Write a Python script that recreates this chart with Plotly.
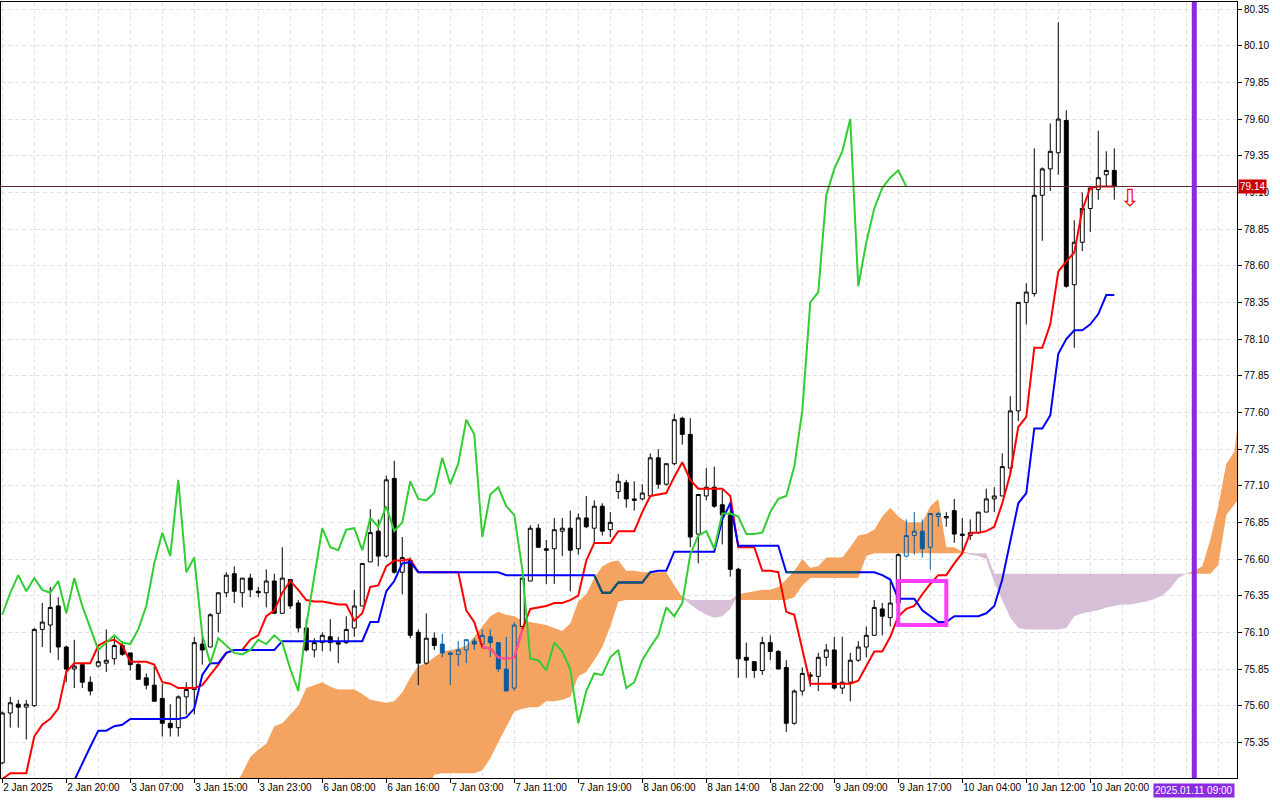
import plotly.graph_objects as go

# H1 bars, x = bar index (0 = 2 Jan 2025)
opens = [75.21, 75.55, 75.61, 75.59, 75.60, 76.12, 76.15, 76.28, 76.00, 75.85,
         75.88, 75.76, 75.87, 75.89, 75.92, 76.01, 75.96, 75.88, 75.79, 75.74,
         75.65, 75.48, 75.45, 75.66, 75.71, 76.02, 76.00, 76.23, 76.37, 76.50,
         76.37, 76.47, 76.38, 76.37, 76.45, 76.23, 76.46, 76.30, 76.13, 75.98,
         76.03, 76.07, 76.03, 76.03, 76.13, 76.28, 76.58, 76.79, 76.62, 77.15,
         76.51, 76.59, 76.10, 75.89, 76.06, 76.02, 75.96, 75.95, 75.98, 76.04,
         76.02, 76.07, 76.03, 75.85, 75.72, 76.14, 76.45, 76.81, 76.67, 76.67,
         76.79, 76.81, 76.67, 76.88, 76.81, 76.96, 76.80, 77.06, 77.12, 77.01,
         77.01, 77.03, 77.29, 77.11, 77.25, 77.56, 77.45, 76.77, 77.03, 77.09,
         76.97, 76.90, 76.53, 75.93, 75.90, 75.84, 76.03, 75.97, 75.86, 75.48,
         75.70, 75.80, 75.80, 75.93, 75.98, 75.72, 75.76, 75.91, 76.00, 76.08,
         76.26, 76.20, 76.30, 76.62, 76.76, 76.79, 76.68, 76.89, 76.88, 76.93,
         76.76, 76.76, 76.78, 76.92, 77.01, 77.03, 77.22, 77.61, 78.35, 78.41,
         79.08, 79.26, 79.37, 79.59, 78.47, 78.76, 78.99, 79.12, 79.22, 79.25]
highs = [75.56, 75.66, 75.64, 75.64, 76.13, 76.30, 76.41, 76.34, 76.01, 76.05,
         75.88, 75.80, 75.99, 76.12, 76.08, 76.04, 75.96, 75.89, 75.82, 75.87,
         75.75, 75.61, 75.67, 75.76, 76.07, 76.07, 76.23, 76.37, 76.51, 76.55,
         76.47, 76.50, 76.41, 76.53, 76.50, 76.68, 76.46, 76.32, 76.19, 76.06,
         76.10, 76.19, 76.07, 76.21, 76.39, 76.57, 76.94, 76.87, 77.17, 77.27,
         76.75, 76.61, 76.12, 76.23, 76.10, 76.09, 75.97, 76.04, 76.05, 76.06,
         76.12, 76.12, 76.03, 76.07, 76.17, 76.47, 76.83, 76.84, 76.73, 76.88,
         76.88, 76.93, 76.91, 77.03, 77.00, 76.98, 76.92, 77.18, 77.14, 77.13,
         77.11, 77.32, 77.35, 77.25, 77.59, 77.57, 77.56, 77.04, 77.22, 77.23,
         77.07, 77.00, 76.54, 76.03, 75.90, 76.07, 76.08, 75.98, 75.91, 75.71,
         75.86, 75.83, 75.96, 76.02, 76.07, 76.07, 75.96, 76.04, 76.14, 76.32,
         76.30, 76.45, 76.64, 76.87, 76.92, 76.87, 76.91, 76.92, 76.92, 77.01,
         76.88, 76.87, 76.92, 77.08, 77.09, 77.32, 77.71, 78.35, 78.48, 79.40,
         79.27, 79.57, 80.26, 79.66, 78.91, 79.10, 79.13, 79.52, 79.38, 79.40]
lows = [75.20, 75.45, 75.45, 75.37, 75.59, 76.00, 75.96, 75.91, 75.76, 75.72,
        75.72, 75.67, 75.86, 75.83, 75.88, 75.94, 75.84, 75.78, 75.71, 75.63,
        75.39, 75.39, 75.39, 75.54, 75.54, 75.88, 76.00, 76.10, 76.34, 76.30,
        76.27, 76.34, 76.34, 76.27, 76.23, 76.23, 76.26, 76.10, 75.97, 75.93,
        75.97, 75.97, 75.89, 76.02, 76.07, 76.28, 76.58, 76.55, 76.61, 76.50,
        76.36, 76.06, 75.74, 75.88, 75.98, 75.93, 75.74, 75.87, 75.89, 75.98,
        75.99, 75.93, 75.83, 75.70, 75.70, 76.13, 76.45, 76.68, 76.43, 76.43,
        76.62, 76.38, 76.63, 76.81, 76.71, 76.76, 76.75, 77.01, 76.95, 76.93,
        77.00, 77.02, 77.08, 77.10, 77.24, 77.38, 76.68, 76.57, 77.00, 76.95,
        76.70, 76.48, 75.79, 75.79, 75.79, 75.81, 75.91, 75.85, 75.42, 75.47,
        75.67, 75.73, 75.70, 75.87, 75.71, 75.68, 75.63, 75.90, 75.93, 76.08,
        76.08, 76.14, 76.29, 76.61, 76.63, 76.61, 76.53, 76.82, 76.82, 76.71,
        76.64, 76.73, 76.77, 76.92, 76.92, 77.03, 77.18, 77.54, 78.20, 78.39,
        78.77, 79.11, 79.22, 78.45, 78.04, 78.70, 78.83, 79.05, 79.14, 79.05]
closes = [75.55, 75.62, 75.59, 75.61, 76.12, 76.17, 76.27, 76.00, 75.85, 75.87,
          75.76, 75.70, 75.90, 75.91, 76.01, 75.95, 75.88, 75.78, 75.74, 75.63,
          75.48, 75.45, 75.66, 75.71, 76.03, 75.98, 76.22, 76.37, 76.49, 76.38,
          76.47, 76.39, 76.37, 76.45, 76.23, 76.47, 76.28, 76.13, 75.98, 76.03,
          76.08, 76.03, 76.02, 76.12, 76.28, 76.57, 76.78, 76.62, 77.14, 76.51,
          76.61, 76.08, 75.89, 76.06, 76.01, 75.96, 75.95, 75.98, 76.05, 76.02,
          76.08, 76.03, 75.85, 75.70, 76.15, 76.47, 76.81, 76.68, 76.66, 76.80,
          76.81, 76.66, 76.88, 76.82, 76.96, 76.79, 76.85, 77.13, 77.01, 77.00,
          77.05, 77.29, 77.11, 77.25, 77.55, 77.45, 76.75, 77.04, 77.09, 76.96,
          76.90, 76.53, 75.92, 75.91, 75.84, 76.03, 75.97, 75.85, 75.48, 75.70,
          75.82, 75.81, 75.93, 75.98, 75.72, 75.76, 75.91, 76.00, 76.08, 76.27,
          76.21, 76.30, 76.63, 76.76, 76.79, 76.67, 76.91, 76.91, 76.89, 76.77,
          76.77, 76.78, 76.92, 77.01, 77.03, 77.23, 77.61, 78.35, 78.42, 79.08,
          79.26, 79.38, 79.60, 78.46, 78.76, 78.99, 79.13, 79.20, 79.25, 79.14]

# Ichimoku lines
tenkan = [75.10, 75.14, 75.14, 75.14, 75.39, 75.47, 75.51, 75.58, 75.83, 75.89,
          75.89, 75.89, 76.01, 76.04, 76.05, 76.01, 75.90, 75.90, 75.90, 75.88,
          75.76, 75.75, 75.72, 75.72, 75.72, 75.74, 75.81, 75.88, 75.96, 75.98,
          75.98, 76.05, 76.08, 76.21, 76.25, 76.37, 76.45, 76.39, 76.32, 76.31,
          76.31, 76.30, 76.29, 76.29, 76.18, 76.23, 76.41, 76.42, 76.55, 76.59,
          76.59, 76.60, 76.51, 76.51, 76.51, 76.51, 76.51, 76.51, 76.25, 76.17,
          76.00, 75.99, 75.93, 75.92, 75.93, 76.12, 76.26, 76.27, 76.28, 76.30,
          76.30, 76.32, 76.35, 76.59, 76.71, 76.71, 76.71, 76.79, 76.79, 76.79,
          76.92, 77.03, 77.04, 77.05, 77.16, 77.26, 77.14, 77.08, 77.08, 77.08,
          77.08, 77.03, 76.68, 76.68, 76.68, 76.52, 76.52, 76.51, 76.24, 76.22,
          75.98, 75.75, 75.75, 75.75, 75.75, 75.75, 75.75, 75.77, 75.87, 75.97,
          75.97, 76.07, 76.21, 76.26, 76.28, 76.36, 76.43, 76.49, 76.49, 76.57,
          76.64, 76.78, 76.78, 76.79, 76.82, 76.98, 77.18, 77.50, 77.57, 78.04,
          78.04, 78.20, 78.56, 78.63, 78.69, 78.98, 79.13, 79.14, 79.14, 79.14]
kijun = [None, None, None, None, None, None, None, None, None, 75.09,
         75.21, 75.32, 75.43, 75.43, 75.46, 75.47, 75.51, 75.51, 75.51, 75.51,
         75.51, 75.51, 75.51, 75.52, 75.58, 75.81, 75.89, 75.89, 75.96, 75.98,
         75.98, 75.98, 75.98, 75.98, 75.98, 76.04, 76.04, 76.04, 76.04, 76.04,
         76.04, 76.04, 76.04, 76.04, 76.04, 76.04, 76.17, 76.17, 76.38, 76.45,
         76.57, 76.58, 76.51, 76.51, 76.51, 76.51, 76.51, 76.51, 76.51, 76.51,
         76.51, 76.51, 76.51, 76.49, 76.49, 76.49, 76.49, 76.49, 76.49, 76.49,
         76.49, 76.49, 76.49, 76.49, 76.49, 76.37, 76.37, 76.44, 76.44, 76.44,
         76.44, 76.51, 76.52, 76.52, 76.65, 76.65, 76.65, 76.65, 76.65, 76.65,
         76.87, 76.98, 76.69, 76.69, 76.69, 76.69, 76.69, 76.69, 76.51, 76.51,
         76.51, 76.51, 76.51, 76.51, 76.51, 76.51, 76.51, 76.51, 76.51, 76.51,
         76.49, 76.46, 76.33, 76.33, 76.33, 76.25, 76.21, 76.17, 76.17, 76.21,
         76.21, 76.21, 76.21, 76.23, 76.28, 76.46, 76.72, 76.98, 77.05, 77.49,
         77.49, 77.58, 78.00, 78.10, 78.16, 78.16, 78.20, 78.27, 78.40, 78.40]

# Senkou spans, bars 29..155 (26 bars ahead of price)
span_start = 29
span_a = [75.05, 75.14, 75.25, 75.30, 75.34, 75.46, 75.48, 75.54, 75.60, 75.72,
          75.74, 75.76, 75.73, 75.71, 75.71, 75.71, 75.68, 75.64, 75.63, 75.62,
          75.63, 75.69, 75.79, 75.87, 75.89, 75.93, 75.97, 75.98, 75.99, 76.01,
          76.07, 76.14, 76.21, 76.24, 76.22, 76.21, 76.18, 76.17, 76.16, 76.15,
          76.13, 76.11, 76.16, 76.31, 76.36, 76.47, 76.55, 76.58, 76.59, 76.52,
          76.52, 76.51, 76.51, 76.51, 76.51, 76.42, 76.34, 76.29, 76.25, 76.22,
          76.20, 76.21, 76.26, 76.36, 76.37, 76.38, 76.39, 76.39, 76.41, 76.46,
          76.52, 76.60, 76.54, 76.55, 76.61, 76.61, 76.61, 76.68, 76.76, 76.77,
          76.80, 76.89, 76.95, 76.89, 76.85, 76.85, 76.85, 76.96, 77.01, 76.68,
          76.68, 76.65, 76.63, 76.62, 76.60, 76.44, 76.32, 76.20, 76.13, 76.12,
          76.12, 76.12, 76.12, 76.12, 76.13, 76.21, 76.23, 76.24, 76.25, 76.27,
          76.28, 76.29, 76.29, 76.30, 76.31, 76.33, 76.35, 76.40, 76.47, 76.50,
          76.52, 76.55, 76.73, 76.96, 77.25, 77.33, 77.77]
span_b = [75.00, 75.00, 75.00, 75.00, 75.00, 75.00, 75.00, 75.00, 75.00, 75.00,
          75.00, 75.00, 75.00, 75.00, 75.00, 75.00, 75.00, 75.00, 75.00, 75.00,
          75.00, 75.00, 75.00, 75.00, 75.00, 75.13, 75.14, 75.14, 75.14, 75.14,
          75.14, 75.16, 75.24, 75.35, 75.45, 75.56, 75.58, 75.59, 75.59, 75.63,
          75.63, 75.64, 75.66, 75.80, 75.83, 75.91, 76.00, 76.14, 76.31, 76.32,
          76.32, 76.32, 76.32, 76.32, 76.32, 76.32, 76.32, 76.32, 76.32, 76.32,
          76.32, 76.32, 76.32, 76.32, 76.32, 76.32, 76.32, 76.32, 76.32, 76.32,
          76.34, 76.42, 76.47, 76.47, 76.47, 76.47, 76.47, 76.47, 76.47, 76.62,
          76.64, 76.64, 76.64, 76.64, 76.64, 76.64, 76.64, 76.64, 76.64, 76.64,
          76.64, 76.64, 76.64, 76.64, 76.64, 76.50, 76.50, 76.50, 76.50, 76.50,
          76.50, 76.50, 76.50, 76.50, 76.50, 76.50, 76.50, 76.50, 76.50, 76.50,
          76.50, 76.50, 76.50, 76.50, 76.50, 76.50, 76.50, 76.50, 76.50, 76.50,
          76.50, 76.50, 76.50, 76.56, 76.90, 76.97, 77.04]

# bars whose candles sit inside the cloud (MT5 draws them inverted/blue)
in_cloud = [55, 56, 57, 58, 59, 60, 61, 62, 63, 64, 113, 114, 115, 116, 117]
tenkan_pink = [60, 61, 62, 63, 64, 65]
kijun_teal = [74, 75, 76, 77, 78, 79, 80, 81, None, 98, 99, 100, 101, 102, 103, 104, 105, 106, 107]

tick_bars = [0, 8, 16, 24, 32, 40, 48, 56, 64, 72, 80, 88, 96, 104, 112, 120, 128, 136]
tick_text = ["2 Jan 2025", "2 Jan 20:00", "3 Jan 07:00", "3 Jan 15:00", "3 Jan 23:00",
             "6 Jan 08:00", "6 Jan 16:00", "7 Jan 03:00", "7 Jan 11:00", "7 Jan 19:00",
             "8 Jan 06:00", "8 Jan 14:00", "8 Jan 22:00", "9 Jan 09:00", "9 Jan 17:00",
             "10 Jan 04:00", "10 Jan 12:00", "10 Jan 20:00"]

last_price = 79.14
vline_bar, vline_label = 149, "2025.01.11 09:00"
rect_bars, rect_prices = (112, 118), (76.15, 76.45)
arrow_bar, arrow_price = 141, 79.06

FONT = "Liberation Sans"
GRID = "#e2e2e2"
Y_RANGE = [75.107, 80.398]

bars = list(range(len(closes)))
span_x = list(range(span_start, span_start + len(span_a)))
span_top = [max(a, b) for a, b in zip(span_a, span_b)]

fig = go.Figure()

# cloud on the base axes: orange where A > B, thistle where B > A
fig.add_trace(go.Scatter(x=span_x, y=span_b, mode="lines", line=dict(width=0), hoverinfo="skip"))
fig.add_trace(go.Scatter(x=span_x, y=span_top, mode="lines", line=dict(width=0),
                         fill="tonexty", fillcolor="#f4a460", hoverinfo="skip"))
fig.add_trace(go.Scatter(x=span_x, y=span_a, mode="lines", line=dict(width=0), hoverinfo="skip"))
fig.add_trace(go.Scatter(x=span_x, y=span_top, mode="lines", line=dict(width=0),
                         fill="tonexty", fillcolor="#d8bfd8", hoverinfo="skip"))

# everything else on an overlaying y axis so it is drawn above the cloud
normal = [i for i in bars if i not in in_cloud]
fig.add_trace(go.Candlestick(
    x=normal, yaxis="y2",
    open=[opens[i] for i in normal], high=[highs[i] for i in normal],
    low=[lows[i] for i in normal], close=[closes[i] for i in normal],
    increasing=dict(line=dict(color="black", width=1), fillcolor="white"),
    decreasing=dict(line=dict(color="black", width=1), fillcolor="black"),
    whiskerwidth=0, hoverinfo="skip"))
fig.add_trace(go.Candlestick(
    x=in_cloud, yaxis="y2",
    open=[opens[i] for i in in_cloud], high=[highs[i] for i in in_cloud],
    low=[lows[i] for i in in_cloud], close=[closes[i] for i in in_cloud],
    increasing=dict(line=dict(color="#0b5b9f", width=1), fillcolor="rgba(0,0,0,0)"),
    decreasing=dict(line=dict(color="#0b5b9f", width=1), fillcolor="#0b5b9f"),
    whiskerwidth=0, hoverinfo="skip"))

# tenkan / kijun
fig.add_trace(go.Scatter(x=bars, y=tenkan, yaxis="y2", mode="lines",
                         line=dict(color="#ff0000", width=2), hoverinfo="skip"))
fig.add_trace(go.Scatter(x=bars, y=kijun, yaxis="y2", mode="lines",
                         line=dict(color="#0000ff", width=2), hoverinfo="skip"))
fig.add_trace(go.Scatter(x=tenkan_pink, y=[tenkan[i] for i in tenkan_pink], yaxis="y2",
                         mode="lines", line=dict(color="#f45b9f", width=2), hoverinfo="skip"))
fig.add_trace(go.Scatter(x=kijun_teal, y=[None if i is None else kijun[i] for i in kijun_teal],
                         yaxis="y2", mode="lines", line=dict(color="#0b5b60", width=2),
                         hoverinfo="skip"))

# chikou: close shifted back 26 bars
fig.add_trace(go.Scatter(x=[i - 26 for i in bars[26:]], y=closes[26:], yaxis="y2", mode="lines",
                         line=dict(color="#32cd32", width=2), hoverinfo="skip"))

# bid line
fig.add_hline(y=last_price, line=dict(color="#5c2a2a", width=1))

# chart objects
fig.add_shape(type="rect", x0=rect_bars[0], x1=rect_bars[1], y0=rect_prices[0], y1=rect_prices[1],
              line=dict(color="#ff3cff", width=4))
fig.add_shape(type="line", x0=vline_bar, x1=vline_bar, y0=0, y1=1, yref="paper",
              line=dict(color="#8a2be2", width=5))

fig.add_annotation(x=vline_bar, y=0, yref="paper", yanchor="top", yshift=-5,
                   text=vline_label, showarrow=False, bgcolor="#8a2be2", borderpad=1,
                   font=dict(family=FONT, size=10, color="white"))
fig.add_annotation(x=1, xref="paper", xanchor="left", xshift=1, y=last_price,
                   text=f"{last_price:.2f}", showarrow=False, bgcolor="#cc0000", borderpad=1,
                   font=dict(family=FONT, size=10, color="white"))
fig.add_annotation(x=arrow_bar, y=arrow_price, text="⇩", showarrow=False,
                   font=dict(family="DejaVu Sans", size=24, color="#ff0000"))

axis_common = dict(showline=True, linecolor="black", linewidth=1, mirror=True,
                   showgrid=True, gridcolor=GRID, griddash="4px,3px", zeroline=False,
                   ticks="outside", ticklen=4, tickcolor="black",
                   tickfont=dict(family=FONT, size=10, color="black"))

fig.update_layout(
    width=1280, height=800,
    paper_bgcolor="white", plot_bgcolor="white",
    margin=dict(l=1, r=43, t=2, b=22),
    showlegend=False,
    xaxis=dict(range=[-0.16, 154.34], tickmode="array", tickvals=tick_bars, ticktext=tick_text,
               ticklabelposition="outside right", tickangle=0,
               minor=dict(tickmode="linear", tick0=0, dtick=4, showgrid=True,
                          gridcolor=GRID, griddash="4px,3px", ticks=""),
               rangeslider=dict(visible=False), **axis_common),
    yaxis=dict(range=Y_RANGE, side="right", tick0=75.35, dtick=0.25,
               tickformat=".2f", **axis_common),
    yaxis2=dict(range=Y_RANGE, overlaying="y", side="right", visible=False, showgrid=False),
)

# page has a default 8px body margin; drop it so the chart fills the window like the original
fig.write_html("out.html", config={"displayModeBar": False},
               post_script="document.body.style.margin='0';")
